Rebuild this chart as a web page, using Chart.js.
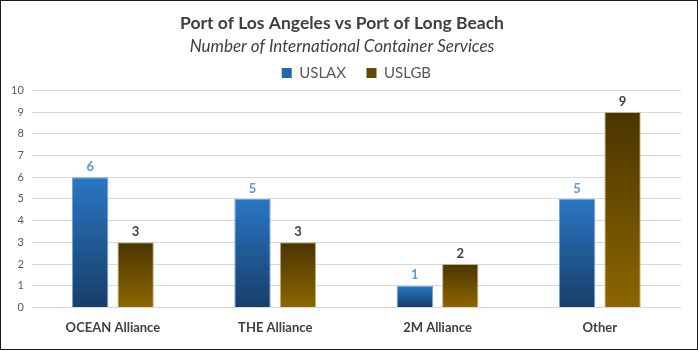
<!DOCTYPE html>
<html lang="en">
<head>
    <title>Port of Los Angeles vs Port of Long Beach</title>
    <meta charset="UTF-8">
    <script src="https://cdn.jsdelivr.net/npm/chart.js@4/dist/chart.umd.min.js"></script>
    <style>
        html, body {margin:0;padding:0;background:#fff;}
        #wrap {width:698px;height:350px;box-sizing:border-box;border:1px solid #1a1a1a;position:relative;}
        canvas {display:block;}
    </style>
</head>
<body>
<div id="wrap"><canvas id="portChart" width="696" height="348"></canvas></div>
<script>
    const alliances = ['OCEAN Alliance', 'THE Alliance', '2M Alliance', 'Other'];
    const uslax = [6, 5, 1, 5];
    const uslgb = [3, 3, 2, 9];

    const FONT = 'Lato, "Open Sans", sans-serif';

    // each bar gets its own vertical gradient, top to bottom
    function barGradient(top, bottom) {
        return (ctx) => {
            const chart = ctx.chart;
            const y = chart.scales.y;
            if (!chart.chartArea || !y || ctx.raw === undefined) return bottom;
            const y0 = y.getPixelForValue(ctx.raw);
            const y1 = y.getPixelForValue(0);
            if (!isFinite(y0) || !isFinite(y1) || y0 === y1) return bottom;
            const g = chart.ctx.createLinearGradient(0, y0, 0, y1);
            g.addColorStop(0, top);
            g.addColorStop(1, bottom);
            return g;
        };
    }

    const valueLabels = {
        id: 'valueLabels',
        afterDatasetsDraw(chart) {
            const c = chart.ctx;
            c.save();
            c.font = 'bold 13px ' + FONT;
            c.textAlign = 'center';
            c.textBaseline = 'bottom';
            chart.data.datasets.forEach((ds, i) => {
                c.fillStyle = ds.labelColor;
                chart.getDatasetMeta(i).data.forEach((bar, j) => {
                    c.fillText(ds.data[j], bar.x, bar.y - 4);
                });
            });
            c.restore();
        }
    };

    new Chart(document.getElementById('portChart'), {
        type: 'bar',
        data: {
            labels: alliances,
            datasets: [{
                label: 'USLAX',
                data: uslax,
                backgroundColor: barGradient('#2A77C4', '#163E68'),
                borderColor: '#6FA3D8',
                borderWidth: 1,
                labelColor: '#5B9BD5',
                legendColor: '#2566AC',
                categoryPercentage: 0.56,
                barPercentage: 0.8
            }, {
                label: 'USLGB',
                data: uslgb,
                backgroundColor: barGradient('#4A3500', '#8C6600'),
                borderColor: '#C9B27A',
                borderWidth: 1,
                labelColor: '#404040',
                legendColor: '#644A00',
                categoryPercentage: 0.56,
                barPercentage: 0.8
            }]
        },
        options: {
            responsive: false,
            animation: false,
            layout: {padding: {left: 2, right: 16, top: 4, bottom: 8}},
            plugins: {
                title: {
                    display: true,
                    text: 'Port of Los Angeles vs Port of Long Beach',
                    color: '#404040',
                    font: {family: FONT, size: 17.5, weight: 'bold'},
                    padding: {top: 8, bottom: 2}
                },
                subtitle: {
                    display: true,
                    text: 'Number of International Container Services',
                    color: '#404040',
                    font: {family: FONT, size: 17, style: 'italic'},
                    padding: {top: 0, bottom: 0}
                },
                legend: {
                    fullSize: false,
                    labels: {
                        boxWidth: 10,
                        boxHeight: 10,
                        padding: 9,
                        color: '#595959',
                        font: {family: FONT, size: 15},
                        generateLabels(chart) {
                            return chart.data.datasets.map((ds, i) => ({
                                text: i === 0 ? ds.label + '   ' : ds.label,
                                fillStyle: ds.legendColor,
                                strokeStyle: ds.legendColor,
                                lineWidth: 0,
                                fontColor: '#595959',
                                datasetIndex: i,
                                hidden: false
                            }));
                        }
                    }
                },
                tooltip: {enabled: false}
            },
            scales: {
                x: {
                    grid: {display: false},
                    border: {display: false},
                    ticks: {color: '#404040', font: {family: FONT, size: 13, weight: 'bold'}, padding: 5}
                },
                y: {
                    min: 0,
                    max: 10,
                    ticks: {stepSize: 1, color: '#595959', font: {family: FONT, size: 11}, padding: 8},
                    grid: {color: '#D9D9D9', lineWidth: 1, drawTicks: false},
                    border: {display: false}
                }
            }
        },
        plugins: [valueLabels]
    });
</script>
</body>
</html>
